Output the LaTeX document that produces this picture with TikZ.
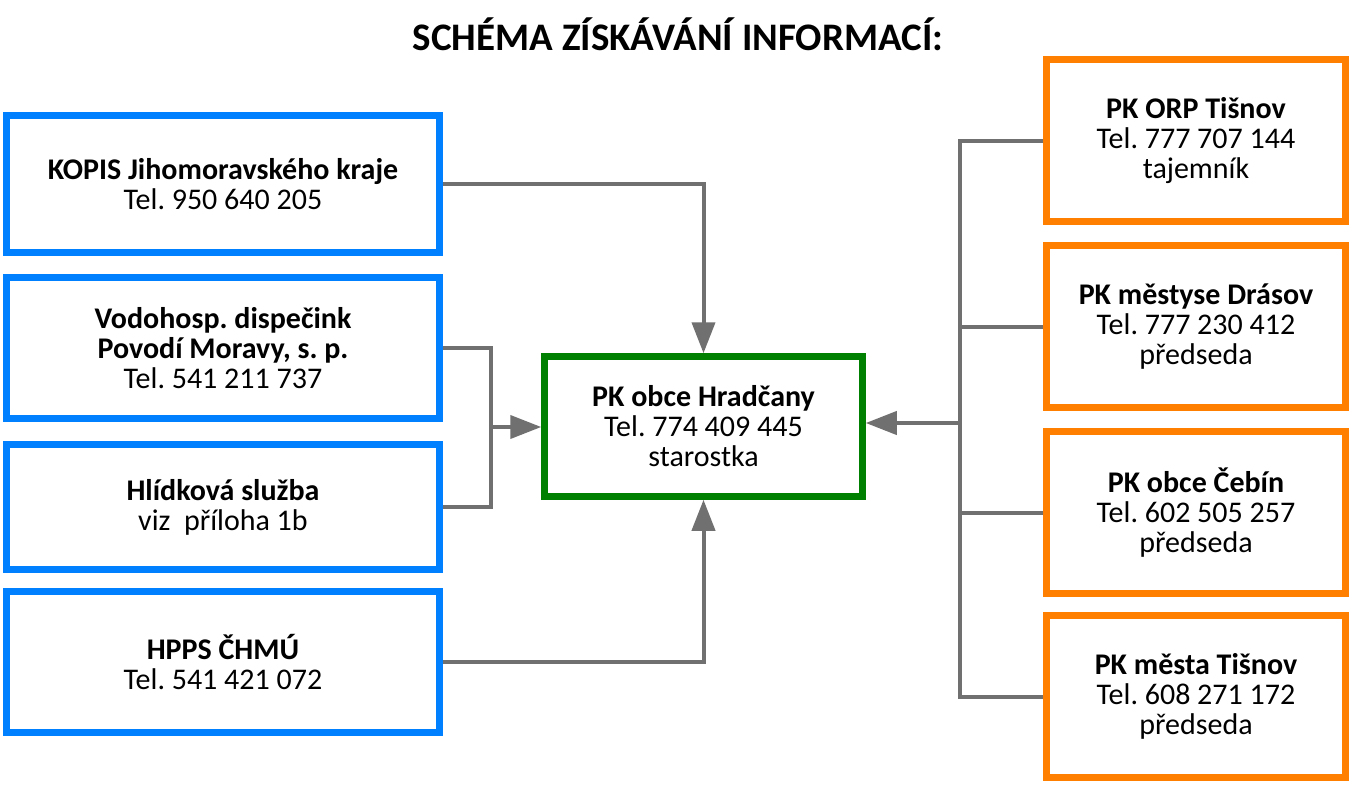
\documentclass[tikz,border=0pt]{standalone}
\usepackage{fontspec}
\setmainfont{Carlito}
\usepackage{xcolor}
\usepackage{tikz}
\usetikzlibrary{arrows.meta}
\frenchspacing

\definecolor{boxblue}{RGB}{0,128,255}
\definecolor{boxgreen}{RGB}{0,128,0}
\definecolor{boxorange}{RGB}{255,128,0}
\definecolor{linkgray}{RGB}{112,112,112}

\tikzset{
  box/.style = {draw, fill=white, line width=6.5pt, align=center, font=\fontsize{30}{30}\selectfont},
  bluebox/.style = {box, draw=boxblue, minimum width=433pt},
  greenbox/.style = {box, draw=boxgreen, minimum width=318pt, minimum height=140pt},
  orangebox/.style = {box, draw=boxorange, minimum width=299pt, minimum height=162pt},
  link/.style = {line width=4pt, draw=linkgray},
  linkarrow/.style = {link, -{Triangle[length=31pt,width=23pt]}}
}

\begin{document}
\begin{tikzpicture}[x=1pt, y=-1pt]

\useasboundingbox [fill=white] (0,0) rectangle (1360,787);

\node[anchor=base, font=\fontsize{39}{40}\selectfont\bfseries] (title) at (678,50) {SCHÉMA ZÍSKÁVÁNÍ INFORMACÍ:};

% zdroje vlevo
\node[bluebox, minimum height=137pt] (kopis) at (223,184) {\textbf{KOPIS Jihomoravského kraje}\\Tel. 950 640 205};
\node[bluebox, minimum height=141pt] (vodo) at (223,348) {\textbf{Vodohosp. dispečink}\\\textbf{Povodí Moravy, s. p.}\\Tel. 541 211 737};
\node[bluebox, minimum height=125pt] (hlid) at (223,507) {\textbf{Hlídková služba}\\viz\ \ příloha 1b};
\node[bluebox, minimum height=141pt] (hpps) at (223,662) {\textbf{HPPS ČHMÚ}\\Tel. 541 421 072};

% stred
\node[greenbox] (hrad) at (703.5,426.5) {\textbf{PK obce Hradčany}\\Tel. 774 409 445\\starostka};

% vpravo
\node[orangebox] (orp) at (1196,140.5) {\textbf{PK ORP Tišnov}\\Tel. 777 707 144\\tajemník};
\node[orangebox] (drasov) at (1196,326.5) {\textbf{PK městyse Drásov}\\Tel. 777 230 412\\předseda};
\node[orangebox] (cebin) at (1196,512.5) {\textbf{PK obce Čebín}\\Tel. 602 505 257\\předseda};
\node[orangebox] (tisnov) at (1196,696.5) {\textbf{PK města Tišnov}\\Tel. 608 271 172\\předseda};

\coordinate (join) at (491,427);
\coordinate (bus) at (960,423);

\draw[linkarrow] (kopis.east) -| (hrad.north);
\draw[link] (vodo.east) -| (join) |- (hlid.east);
\draw[linkarrow] (join) -- (join -| hrad.west);
\draw[linkarrow] (hpps.east) -| (hrad.south);

\draw[link] (orp.west) -| (bus) |- (tisnov.west);
\draw[link] (drasov.west) -- (drasov.west -| bus);
\draw[link] (cebin.west) -- (cebin.west -| bus);
\draw[linkarrow] (bus) -- (bus -| hrad.east);

\end{tikzpicture}
\end{document}
